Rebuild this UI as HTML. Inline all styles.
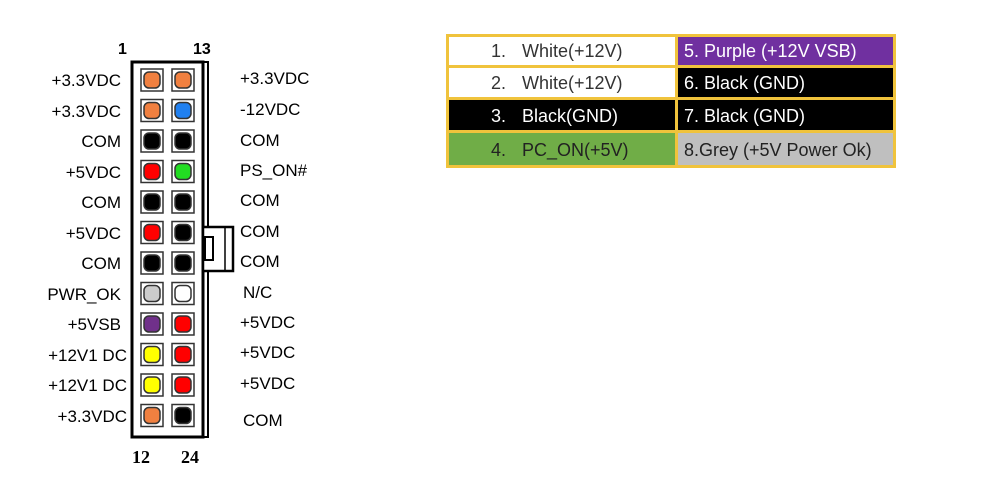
<!DOCTYPE html>
<html><head><style>
body{margin:0;background:#fff;width:1000px;height:477px;overflow:hidden;}
svg text{font-family:"Liberation Sans",Arial,sans-serif;}
</style></head><body>
<svg width="1000" height="477" viewBox="0 0 1000 477" xmlns="http://www.w3.org/2000/svg">
<rect x="132" y="62" width="71" height="375" fill="#fff" stroke="#000" stroke-width="3"/>
<line x1="208" y1="62" x2="208" y2="226" stroke="#000" stroke-width="2"/>
<line x1="203" y1="62" x2="209" y2="62" stroke="#000" stroke-width="2"/>
<line x1="208" y1="272" x2="208" y2="437" stroke="#000" stroke-width="2"/>
<line x1="203" y1="437" x2="209" y2="437" stroke="#000" stroke-width="2"/>
<rect x="203" y="227" width="30" height="44" fill="#fff" stroke="#000" stroke-width="2.5"/>
<rect x="205" y="237" width="8" height="23" fill="#fff" stroke="#000" stroke-width="2"/>
<line x1="225" y1="228" x2="225" y2="270" stroke="#000" stroke-width="1.5"/>
<text x="118" y="54" font-size="16" font-weight="bold">1</text>
<text x="193" y="54" font-size="16" font-weight="bold">13</text>
<text x="132" y="463" font-size="18" font-weight="bold" style="font-family:'Liberation Serif',serif">12</text>
<text x="181" y="463" font-size="18" font-weight="bold" style="font-family:'Liberation Serif',serif">24</text>
<g id="pins"></g>
<g font-size="17" fill="#000">
<text x="121" y="86" text-anchor="end">+3.3VDC</text>
<text x="121" y="117" text-anchor="end">+3.3VDC</text>
<text x="121" y="147" text-anchor="end">COM</text>
<text x="121" y="178" text-anchor="end">+5VDC</text>
<text x="121" y="208" text-anchor="end">COM</text>
<text x="121" y="239" text-anchor="end">+5VDC</text>
<text x="121" y="269" text-anchor="end">COM</text>
<text x="121" y="300" text-anchor="end">PWR_OK</text>
<text x="121" y="330" text-anchor="end">+5VSB</text>
<text x="127" y="361" text-anchor="end">+12V1 DC</text>
<text x="127" y="391" text-anchor="end">+12V1 DC</text>
<text x="127" y="422" text-anchor="end">+3.3VDC</text>
<text x="240" y="84">+3.3VDC</text>
<text x="240" y="115">-12VDC</text>
<text x="240" y="146">COM</text>
<text x="240" y="176">PS_ON#</text>
<text x="240" y="206">COM</text>
<text x="240" y="237">COM</text>
<text x="240" y="267">COM</text>
<text x="243" y="298">N/C</text>
<text x="240" y="328">+5VDC</text>
<text x="240" y="358">+5VDC</text>
<text x="240" y="389">+5VDC</text>
<text x="243" y="426">COM</text>
</g>
<rect x="446" y="34" width="450" height="134" fill="#f0c33c"/>
<rect x="449" y="37" width="226" height="28" fill="#fff"/>
<rect x="678" y="37" width="215" height="28" fill="#7030a0"/>
<rect x="449" y="68" width="226" height="29" fill="#fff"/>
<rect x="678" y="68" width="215" height="29" fill="#000"/>
<rect x="449" y="100" width="226" height="30" fill="#000"/>
<rect x="678" y="100" width="215" height="30" fill="#000"/>
<rect x="449" y="133" width="226" height="32" fill="#70ad47"/>
<rect x="678" y="133" width="215" height="32" fill="#bfbfbf"/>
<g font-size="18">
<text x="491" y="57" fill="#333">1.</text><text x="522" y="57" fill="#333">White(+12V)</text>
<text x="491" y="89" fill="#333">2.</text><text x="522" y="89" fill="#333">White(+12V)</text>
<text x="491" y="122" fill="#fff">3.</text><text x="522" y="122" fill="#fff">Black(GND)</text>
<text x="491" y="156" fill="#222">4.</text><text x="522" y="156" fill="#222">PC_ON(+5V)</text>
<text x="684" y="57" fill="#fff">5. Purple (+12V VSB)</text>
<text x="684" y="89" fill="#fff">6. Black (GND)</text>
<text x="684" y="122" fill="#fff">7. Black (GND)</text>
<text x="684" y="156" fill="#222">8.Grey (+5V Power Ok)</text>
</g>
</svg>
<script>
var L=["#f08040","#f08040","#000","#f00","#000","#f00","#000","#ccc","#70308a","#ff0","#ff0","#f08040"];
var R=["#f08040","#2080f0","#000","#2d2","#000","#000","#000","#fff","#f00","#f00","#f00","#000"];
var g=document.getElementById("pins"),s="";
for(var i=0;i<12;i++){var y=80+i*30.5;
[[152,L[i]],[183,R[i]]].forEach(function(p){var x=p[0];
s+='<rect x="'+(x-11)+'" y="'+(y-11)+'" width="22" height="22" fill="#fff" stroke="#333" stroke-width="1.5"/>';
s+='<rect x="'+(x-8)+'" y="'+(y-8)+'" width="16" height="16" rx="5" fill="'+p[1]+'" stroke="#333" stroke-width="1.5"/>';});}
g.innerHTML=s;
</script>
</body></html>
